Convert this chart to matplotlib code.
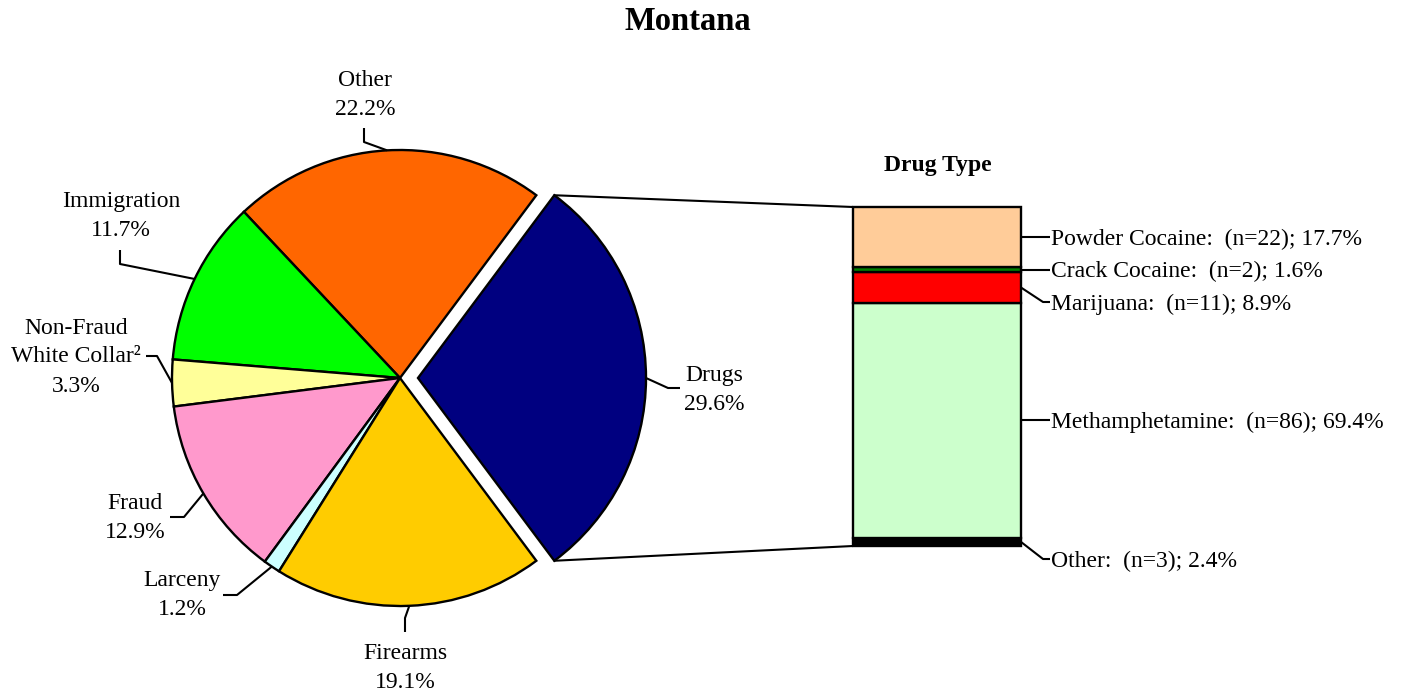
import numpy as np
import matplotlib
matplotlib.use('Agg')
import matplotlib.pyplot as plt
from matplotlib.patches import ConnectionPatch

plt.rcParams['font.family'] = ['Liberation Serif', 'DejaVu Serif']

# pie data (counter-clockwise from Drugs)
offenses = ['Drugs', 'Other', 'Immigration', 'Non-Fraud\nWhite Collar\u00b2',
            'Fraud', 'Larceny', 'Firearms']
offense_pct = [29.6, 22.2, 11.7, 3.3, 12.9, 1.2, 19.1]
offense_colors = ['#000080', '#FF6600', '#00FF00', '#FFFF99',
                  '#FF99CC', '#CCFFFF', '#FFCC00']

# drug breakdown (bottom to top)
drugs = ['Other', 'Methamphetamine', 'Marijuana', 'Crack Cocaine', 'Powder Cocaine']
drug_n = [3, 86, 11, 2, 22]
drug_pct = [2.4, 69.4, 8.9, 1.6, 17.7]
drug_colors = ['#000000', '#CCFFCC', '#FF0000', '#008000', '#FFCC99']

W, H = 1406, 693
fig = plt.figure(figsize=(W / 100, H / 100), dpi=100)
ax = fig.add_axes([0, 0, 1, 1])


def P(x, y):
    # pixel position (top-left origin) -> data position
    return x, H - y


cx, cy = P(400, 378)
R = 228
wedges, _ = ax.pie(offense_pct, colors=offense_colors, startangle=-53.28,
                   counterclock=True, center=(cx, cy), radius=R,
                   explode=[18, 0, 0, 0, 0, 0, 0],
                   wedgeprops=dict(edgecolor='black', linewidth=1.7))
ax.set_xlim(0, W)
ax.set_ylim(0, H)
ax.set_aspect('auto')
ax.axis('off')

# label layout: text center, elbow, end of leader (pixels)
layout = {
    'Drugs': ((714, 390), (668, 388), (680, 388)),
    'Other': ((365, 95), (364, 142), (364, 128)),
    'Immigration': ((121, 216), (120, 264), (120, 250)),
    'Non-Fraud\nWhite Collar\u00b2': ((76, 357), (157, 356), (146, 356)),
    'Fraud': ((135, 518), (184, 517), (170, 517)),
    'Larceny': ((182, 595), (237, 595), (223, 595)),
    'Firearms': ((405, 668), (405, 618), (405, 632)),
}

for w, name, pct in zip(wedges, offenses, offense_pct):
    th = np.deg2rad((w.theta1 + w.theta2) / 2)
    ax_x = w.center[0] + w.r * np.cos(th)
    ax_y = w.center[1] + w.r * np.sin(th)
    (tx, ty), (ex, ey), (fx, fy) = layout[name]
    ax.plot([ax_x, P(ex, ey)[0], P(fx, fy)[0]],
            [ax_y, P(ex, ey)[1], P(fx, fy)[1]],
            color='black', lw=1.5, solid_capstyle='butt')
    ax.text(*P(tx, ty), f'{name}\n{pct:.1f}%', ha='center', va='center',
            fontsize=17, linespacing=1.5, multialignment='center')

ax.text(*P(688, 22), 'Montana', ha='center', va='center',
        fontsize=23.5, fontweight='bold')

# stacked bar for drug type
bx0, bx1, by0, by1 = 853, 1021, 207, 546
ax2 = fig.add_axes([bx0 / W, (H - by1) / H, (bx1 - bx0) / W, (by1 - by0) / H])
bottoms = np.concatenate([[0], np.cumsum(drug_pct)[:-1]])
ax2.bar(0, drug_pct, bottom=bottoms, width=1, color=drug_colors,
        edgecolor='black', linewidth=1.7, clip_on=False)
ax2.set_xlim(-0.5, 0.5)
ax2.set_ylim(0, 100)
ax2.axis('off')

ax.text(*P(938, 166), 'Drug Type', ha='center', va='center',
        fontsize=17, fontweight='bold')

# connector lines from exploded Drugs wedge to bar corners
dw = wedges[0]
for ang, yb in ((dw.theta2, 100), (dw.theta1, 0)):
    t = np.deg2rad(ang)
    p = (dw.center[0] + dw.r * np.cos(t), dw.center[1] + dw.r * np.sin(t))
    con = ConnectionPatch(xyA=p, coordsA=ax.transData, xyB=(-0.5, yb),
                          coordsB=ax2.transData, color='black', lw=1.5)
    fig.add_artist(con)

label_y = {'Powder Cocaine': 240, 'Crack Cocaine': 271, 'Marijuana': 302,
           'Methamphetamine': 420, 'Other': 559}
inv = ax.transData.inverted()
for name, n, pct, b in zip(drugs, drug_n, drug_pct, bottoms):
    mx, my = inv.transform(ax2.transData.transform((0.5, b + pct / 2)))
    ly = P(0, label_y[name])[1]
    if abs(my - ly) < 6:
        ly = my
    ax.plot([mx, 1043, 1050], [my, ly, ly], color='black', lw=1.5,
            solid_capstyle='butt')
    ax.text(1051, ly - 2, f'{name}:  (n={n}); {pct:.1f}%', ha='left',
            va='center', fontsize=17)

fig.savefig('out.png', dpi=100)
